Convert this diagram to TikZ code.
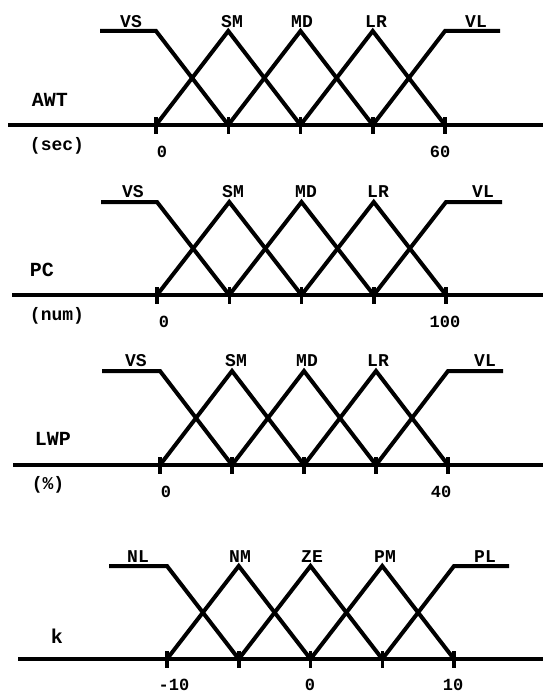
\documentclass[tikz,border=0pt]{standalone}
\usepackage{fontspec}
\setmonofont{Liberation Mono}
\newcommand\mfpanel[8]{%
  % #1 axis y, #2 top y, #3 first tick x, #4 tick step, #5 left flat x, #6 right flat x, #7 axis start x, #8 prefix
  \foreach \i in {0,...,4}{%
    \coordinate (#8b\i) at ({#3+\i*#4},#1);
    \coordinate (#8t\i) at ({#3+\i*#4},#2);
  }
  \coordinate (#8L) at (#5,#2);
  \coordinate (#8R) at (#6,#2);
  \coordinate (#8axs) at (#7,#1);
  \coordinate (#8axe) at (543,#1);
  \draw[axisline] (#8axs) -- (#8axe);
  \foreach \i in {0,...,4}{%
    \draw[tickmark] ([yshift=8pt]#8b\i) -- ([yshift=-9pt]#8b\i);
  }
  \draw[mf] (#8L) -- (#8t0) -- (#8b1);
  \draw[mf] (#8b0) -- (#8t1) -- (#8b2);
  \draw[mf] (#8b1) -- (#8t2) -- (#8b3);
  \draw[mf] (#8b2) -- (#8t3) -- (#8b4);
  \draw[mf] (#8b3) -- (#8t4) -- (#8R);
}
\begin{document}
\begin{tikzpicture}[x=1pt,y=-1pt,
  mf/.style={line width=4pt, line join=miter, line cap=butt},
  axisline/.style={line width=4.5pt},
  tickmark/.style={line width=3.5pt},
  setlbl/.style={font=\fontsize{18}{18}\selectfont\ttfamily\bfseries, inner sep=0pt, anchor=center},
  numlbl/.style={font=\fontsize{17}{17}\selectfont\ttfamily\bfseries, inner sep=0pt, anchor=center},
  unitlbl/.style={font=\fontsize{18}{18}\selectfont\ttfamily\bfseries, inner sep=0pt, anchor=center},
  varlbl/.style={font=\fontsize{20}{20}\selectfont\ttfamily\bfseries, inner sep=0pt, anchor=center}]
\useasboundingbox (0,0) rectangle (543,693);

% Panel 1: AWT
\mfpanel{125}{31}{156}{72.25}{100}{500}{8}{a}
\node[setlbl] (aVS) at (131,22) {VS};
\node[setlbl] (aSM) at (232,22) {SM};
\node[setlbl] (aMD) at (302,22) {MD};
\node[setlbl] (aLR) at (376,22) {LR};
\node[setlbl] (aVL) at (476,22) {VL};
\node[varlbl] (aname) at (50,100) {AWT};
\node[unitlbl] (aunit) at (57,146) {(sec)};
\node[numlbl] (an0) at (162,152) {0};
\node[numlbl] (an1) at (440,152) {60};

% Panel 2: PC
\mfpanel{295}{202}{157}{72.25}{101}{502}{12}{p}
\node[setlbl] (pVS) at (133,192) {VS};
\node[setlbl] (pSM) at (233,192) {SM};
\node[setlbl] (pMD) at (306,192) {MD};
\node[setlbl] (pLR) at (378,192) {LR};
\node[setlbl] (pVL) at (483,192) {VL};
\node[varlbl] (pname) at (42,270) {PC};
\node[unitlbl] (punit) at (57,316) {(num)};
\node[numlbl] (pn0) at (164,322) {0};
\node[numlbl] (pn1) at (445,322) {100};

% Panel 3: LWP
\mfpanel{465}{371}{160}{72}{102}{503}{13}{l}
\node[setlbl] (lVS) at (136,361) {VS};
\node[setlbl] (lSM) at (236,361) {SM};
\node[setlbl] (lMD) at (307,361) {MD};
\node[setlbl] (lLR) at (378,361) {LR};
\node[setlbl] (lVL) at (485,361) {VL};
\node[varlbl] (lname) at (53,439) {LWP};
\node[unitlbl] (lunit) at (48,485) {(\%)};
\node[numlbl] (ln0) at (166,492) {0};
\node[numlbl] (ln1) at (441,492) {40};

% Panel 4: k
\mfpanel{659}{566}{167}{71.75}{109}{509}{18}{k}
\node[setlbl] (kNL) at (138,557) {NL};
\node[setlbl] (kNM) at (240,557) {NM};
\node[setlbl] (kZE) at (312,557) {ZE};
\node[setlbl] (kPM) at (385,557) {PM};
\node[setlbl] (kPL) at (485,557) {PL};
\node[varlbl] (kname) at (57,636) {k};
\node[numlbl] (kn0) at (174,685) {-10};
\node[numlbl] (kn1) at (310,685) {0};
\node[numlbl] (kn2) at (453,685) {10};
\end{tikzpicture}
\end{document}
